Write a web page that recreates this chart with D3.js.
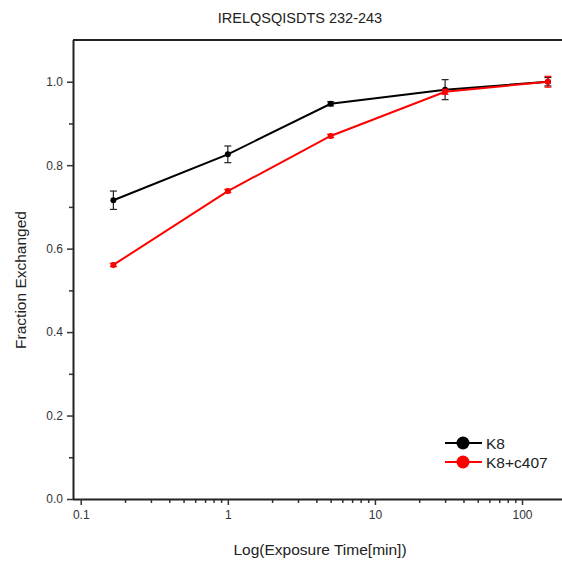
<!DOCTYPE html>
<html>
<head>
<meta charset="utf-8">
<script src="https://cdn.jsdelivr.net/npm/d3@7"></script>
<style>
  body { margin: 0; background: #fff; }
  text { font-family: "Liberation Sans", Arial, sans-serif; }
</style>
</head>
<body>
<div id="chart"></div>
<script>
// exposure times (min)
const times = [0.1667, 1, 5, 30, 150]
const k8 = [0.716, 0.826, 0.947, 0.981, 1.0]
const k8Err = [0.022, 0.02, 0.005, 0.024, 0.01]
const k8c407 = [0.561, 0.738, 0.870, 0.976, 1.0]
const k8c407Err = [0.004, 0.004, 0.004, 0.006, 0.013]
const seriesNames = ['K8', 'K8+c407']
const seriesColors = ['#000000', '#ff0000']
const yTicks = [0, 0.2, 0.4, 0.6, 0.8, 1.0]
const xTicks = [0.1, 1, 10, 100]

const W = 562, H = 563
const plot = { left: 73, top: 40, right: 562, bottom: 499 }

const svg = d3.select('#chart').append('svg')
  .attr('width', W).attr('height', H)

const x = d3.scaleLog().domain([0.0886, 187]).range([plot.left, plot.right])
const y = d3.scaleLinear().domain([0, 1.1]).range([plot.bottom, plot.top])

// title
svg.append('text')
  .attr('x', 300).attr('y', 23)
  .attr('text-anchor', 'middle')
  .attr('font-size', 14.5).attr('fill', '#222')
  .text('IRELQSQISDTS 232-243')

// top frame line
svg.append('line').attr('x1', plot.left).attr('x2', plot.right).attr('y1', plot.top).attr('y2', plot.top)
  .attr('stroke', '#222').attr('stroke-width', 2)

// y axis
const yMinor = [0.1, 0.3, 0.5, 0.7, 0.9]
svg.append('g')
  .attr('transform', `translate(${plot.left},0)`)
  .call(d3.axisLeft(y).tickValues(yMinor).tickSize(4).tickFormat(''))
  .call(g => g.select('.domain').remove())
  .call(g => g.selectAll('line').attr('stroke', '#333').attr('stroke-width', 1.5))
svg.append('g')
  .attr('transform', `translate(${plot.left},0)`)
  .call(d3.axisLeft(y).tickValues(yTicks).tickSize(6).tickPadding(4).tickFormat(d3.format('.1f')))
  .call(g => g.select('.domain').attr('stroke', '#222').attr('stroke-width', 2).attr('d', `M0.5,${plot.top}V${plot.bottom}`))
  .call(g => g.selectAll('line').attr('stroke', '#333').attr('stroke-width', 1.5))
  .call(g => g.selectAll('text').attr('font-size', 12).attr('fill', '#333').attr('font-family', '"Liberation Sans", Arial, sans-serif'))

// x axis
const xMinor = []
;[0.1, 1, 10, 100].forEach(d => { for (let k = 2; k <= 9; k++) xMinor.push(d * k) })
svg.append('g')
  .attr('transform', `translate(0,${plot.bottom})`)
  .call(d3.axisBottom(x).tickValues(xMinor.filter(v => v < 187)).tickSize(4).tickFormat(''))
  .call(g => g.select('.domain').remove())
  .call(g => g.selectAll('line').attr('stroke', '#333').attr('stroke-width', 1.5))
svg.append('g')
  .attr('transform', `translate(0,${plot.bottom})`)
  .call(d3.axisBottom(x).tickValues(xTicks).tickSize(6).tickPadding(5).tickFormat(d => d3.format('~g')(d)))
  .call(g => g.select('.domain').attr('stroke', '#222').attr('stroke-width', 2).attr('d', `M${plot.left},0.5H${plot.right}`))
  .call(g => g.selectAll('line').attr('stroke', '#333').attr('stroke-width', 1.5))
  .call(g => g.selectAll('text').attr('font-size', 12).attr('fill', '#333').attr('font-family', '"Liberation Sans", Arial, sans-serif'))

// axis titles
svg.append('text')
  .attr('x', 320).attr('y', 555)
  .attr('text-anchor', 'middle')
  .attr('font-size', 15.5).attr('fill', '#222')
  .text('Log(Exposure Time[min])')
svg.append('text')
  .attr('transform', 'translate(26,280) rotate(-90)')
  .attr('text-anchor', 'middle')
  .attr('font-size', 15.5).attr('fill', '#222')
  .text('Fraction Exchanged')

// series
const series = [
  { name: seriesNames[0], color: seriesColors[0], vals: k8, errs: k8Err },
  { name: seriesNames[1], color: seriesColors[1], vals: k8c407, errs: k8c407Err }
]

const line = d3.line().x(d => x(d.t)).y(d => y(d.v))

series.forEach(s => {
  const pts = times.map((t, i) => ({ t, v: s.vals[i], e: s.errs[i] }))
  const g = svg.append('g')
  const ec = s.color === '#000000' ? '#222' : s.color
  g.append('path').datum(pts)
    .attr('d', line).attr('fill', 'none')
    .attr('stroke', s.color).attr('stroke-width', 2)
  const eb = g.selectAll('.err').data(pts).enter().append('g')
  eb.append('line')
    .attr('x1', d => x(d.t)).attr('x2', d => x(d.t))
    .attr('y1', d => y(d.v - d.e)).attr('y2', d => y(d.v + d.e))
    .attr('stroke', ec).attr('stroke-width', 1.2)
  ;[-1, 1].forEach(sign => {
    eb.append('line')
      .attr('x1', d => x(d.t) - 3.5).attr('x2', d => x(d.t) + 3.5)
      .attr('y1', d => y(d.v + sign * d.e))
      .attr('y2', d => y(d.v + sign * d.e))
      .attr('stroke', ec).attr('stroke-width', 1.2)
  })
  g.selectAll('.pt').data(pts).enter().append('circle')
    .attr('cx', d => x(d.t)).attr('cy', d => y(d.v))
    .attr('r', 3).attr('fill', s.color)
})

// legend
const legend = svg.append('g')
series.forEach((s, i) => {
  const ly = 443 + i * 19
  legend.append('line').attr('x1', 445).attr('x2', 482).attr('y1', ly).attr('y2', ly)
    .attr('stroke', s.color).attr('stroke-width', 2)
  legend.append('circle').attr('cx', 463).attr('cy', ly).attr('r', 6.5).attr('fill', s.color)
  legend.append('text').attr('x', 486).attr('y', ly + 5.5)
    .attr('font-size', 15.5).attr('fill', '#222').text(s.name)
})
</script>
</body>
</html>
